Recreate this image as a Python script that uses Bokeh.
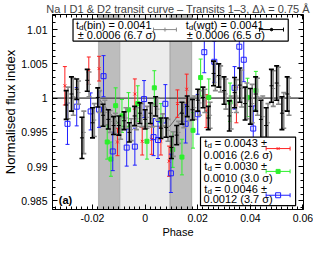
import numpy as np
from bokeh.plotting import figure
from bokeh.models import (Range1d, SingleIntervalTicker, LinearAxis, CustomJSTickFormatter,
                          BoxAnnotation, Span, ColumnDataSource)
from bokeh.core.properties import value
from bokeh.embed import file_html
from bokeh.resources import INLINE

FONT = "Liberation Sans"
TITLE = "Na I D1 & D2 transit curve \u2013 Transits 1\u20133, \u0394\u03bb = 0.75 \u00c5"
X_LABEL = "Phase"
Y_LABEL = "Normalised flux index"
PANEL_TAG = "(a)"

# transit contact phases and model depth
contacts = [-0.0177, -0.0094, 0.0094, 0.0177]
model_phase = [-0.0352, -0.0177, -0.0094, 0.0094, 0.0177, 0.0602]
model_flux = [1.0, 1.0, 0.9959, 0.9959, 1.0, 1.0]

# weighted mean (black)
wgt_phase = [-0.030, -0.028, -0.026, -0.024, -0.022, -0.020, -0.018, -0.016, -0.014, -0.012,
             -0.010, -0.008, -0.006, -0.004, -0.002, 0.000, 0.002, 0.004, 0.006, 0.008,
             0.010, 0.012, 0.014, 0.016, 0.018, 0.020, 0.022, 0.024, 0.026, 0.028,
             0.030, 0.032, 0.034, 0.036, 0.038, 0.040, 0.042, 0.044, 0.046, 0.048,
             0.050, 0.052, 0.054]
wgt_flux = [0.9990, 1.0006, 1.0013, 0.9942, 1.0026, 0.9964, 1.0001, 0.9975, 0.9969, 0.9960,
            0.9960, 0.9967, 0.9950, 0.9974, 0.9978, 0.9969, 0.9978, 0.9988, 0.9956, 0.9957,
            0.9928, 0.9946, 0.9978, 0.9988, 0.9983, 0.9997, 1.0001, 0.9971, 1.0036, 1.0033,
            1.0011, 0.9974, 1.0008, 1.0019, 0.9992, 0.9988, 1.0006, 0.9969, 0.9960, 1.0018,
            1.0022, 0.9978, 1.0006]
wgt_err = [0.0021, 0.0025, 0.0015, 0.0030, 0.0016, 0.0022, 0.0014, 0.0016, 0.0014, 0.0013,
           0.0014, 0.0013, 0.0014, 0.0014, 0.0015, 0.0014, 0.0015, 0.0014, 0.0015, 0.0014,
           0.0016, 0.0014, 0.0016, 0.0015, 0.0015, 0.0016, 0.0015, 0.0017, 0.0018, 0.0017,
           0.0020, 0.0022, 0.0022, 0.0025, 0.0024, 0.0026, 0.0025, 0.0028, 0.0026, 0.0024,
           0.0025, 0.0024, 0.0025]

# binned (grey)
bin_phase = [-0.0293, -0.0273, -0.0253, -0.0233, -0.0213, -0.0193, -0.0173, -0.0153, -0.0133, -0.0113,
             -0.0093, -0.0073, -0.0053, -0.0033, -0.0013, 0.0007, 0.0027, 0.0047, 0.0067, 0.0087,
             0.0107, 0.0127, 0.0147, 0.0167, 0.0187, 0.0207, 0.0227, 0.0247, 0.0267, 0.0287,
             0.0307, 0.0327, 0.0347, 0.0367, 0.0387, 0.0407, 0.0427, 0.0447, 0.0467, 0.0487,
             0.0507, 0.0527, 0.0547]
bin_flux = [0.9993, 1.0002, 1.0008, 0.9950, 1.0020, 0.9968, 0.9995, 0.9979, 0.9966, 0.9963,
            0.9956, 0.9971, 0.9954, 0.9970, 0.9975, 0.9972, 0.9975, 0.9984, 0.9960, 0.9953,
            0.9933, 0.9950, 0.9975, 0.9984, 0.9986, 0.9993, 0.9996, 0.9975, 1.0031, 1.0028,
            1.0006, 0.9979, 1.0003, 1.0014, 0.9996, 0.9992, 1.0002, 0.9973, 0.9964, 1.0014,
            1.0018, 0.9982, 1.0002]
bin_err = [0.0023, 0.0027, 0.0017, 0.0031, 0.0018, 0.0024, 0.0016, 0.0018, 0.0016, 0.0015,
           0.0016, 0.0015, 0.0016, 0.0016, 0.0017, 0.0016, 0.0017, 0.0016, 0.0017, 0.0016,
           0.0018, 0.0016, 0.0018, 0.0017, 0.0017, 0.0018, 0.0017, 0.0019, 0.0020, 0.0019,
           0.0022, 0.0024, 0.0024, 0.0027, 0.0026, 0.0028, 0.0027, 0.0030, 0.0028, 0.0026,
           0.0027, 0.0026, 0.0027]

# transit 1 (red)
t1_phase = [-0.0305, -0.0214, -0.0175, -0.0105, -0.0039, -0.0011, 0.0025, 0.0060, 0.0091,
            0.0123, 0.0158, 0.0232, 0.0347]
t1_flux = [1.0018, 1.0040, 1.0043, 0.9936, 1.0006, 0.9937, 0.9940, 0.9937, 0.9908,
           0.9992, 1.0013, 0.9981, 0.9990]
t1_err = [0.0028, 0.0020, 0.0018, 0.0020, 0.0022, 0.0020, 0.0022, 0.0020, 0.0022,
          0.0020, 0.0022, 0.0024, 0.0026]

# transit 2 (green)
t2_phase = [-0.0144, -0.0130, -0.0112, -0.0088, -0.0063, -0.0028, 0.0007, 0.0035, 0.0060,
            0.0105, 0.0140, 0.0182, 0.0211, 0.0242, 0.0323, 0.0389, 0.0421]
t2_flux = [0.9936, 0.9911, 0.9989, 0.9974, 0.9983, 0.9992, 0.9937, 1.0015, 0.9967,
           0.9925, 0.9914, 0.9953, 1.0030, 1.0001, 0.9994, 1.0001, 1.0011]
t2_err = [0.0025, 0.0025, 0.0026, 0.0024, 0.0025, 0.0026, 0.0026, 0.0025, 0.0025,
          0.0026, 0.0026, 0.0026, 0.0027, 0.0027, 0.0028, 0.0028, 0.0028]

# transit 3 (blue)
t3_phase = [-0.0295, -0.0260, -0.0207, -0.0175, -0.0158, -0.0123, -0.0070, -0.0039, -0.0004,
            0.0032, 0.0049, 0.0077, 0.0098, 0.0154, 0.0200, 0.0225, 0.0263, 0.0340, 0.0358,
            0.0375, 0.0411]
t3_flux = [0.99625, 0.99875, 0.99806, 0.99833, 1.0032, 0.99222, 0.99278, 0.99292, 0.99986,
           0.99431, 0.99389, 0.99917, 0.98903, 0.99625, 0.99764, 1.0067, 1.0053, 1.0015, 1.0075,
           1.0056, 0.99556]
t3_err = [0.0030, 0.0028, 0.0027, 0.0026, 0.0030, 0.0028, 0.0027, 0.0027, 0.0027,
          0.0027, 0.0027, 0.0028, 0.0028, 0.0028, 0.0029, 0.0030, 0.0030, 0.0031, 0.0032,
          0.0032, 0.0033]

# legend texts
bin_label = ["(bin) = 0.0041", "\u00b1 0.0006 (6.7 \u03c3)"]
wgt_label = ["(wgt) = 0.0041", "\u00b1 0.0006 (6.5 \u03c3)"]
transit_label = [["= 0.0043 \u00b1", "0.0016 (2.6 \u03c3)"],
                 ["= 0.0030 \u00b1", "0.0010 (3.0 \u03c3)"],
                 ["= 0.0046 \u00b1", "0.0012 (3.7 \u03c3)"]]

RED, GREEN, BLUE, GREY = "#ff2020", "#2cf02c", "#1f1fff", "#8a8a8a"

X0, X1 = -0.0352, 0.0602
Y0, Y1 = 0.98375, 1.0122

p = figure(width=313, height=240, x_range=Range1d(X0, X1), y_range=Range1d(Y0, Y1),
           output_backend="svg", toolbar_location=None, title=TITLE,
           min_border_left=40, min_border_right=10, min_border_top=10, min_border_bottom=26)
p.title.text_font = FONT
p.title.text_font_size = "11px"
p.title.text_font_style = "normal"
p.title.align = "center"
p.title.standoff = 0
p.grid.visible = False
p.outline_line_color = "black"
p.outline_line_width = 1
p.background_fill_color = "white"
p.border_fill_color = "white"

xt = SingleIntervalTicker(interval=0.02, num_minor_ticks=10)
yt = SingleIntervalTicker(interval=0.005, num_minor_ticks=5)


def style_axis(ax, ticker, loc=None, labels=True):
    ax.ticker = ticker
    if loc is not None:
        ax.fixed_location = loc
    ax.major_tick_in = 5
    ax.major_tick_out = 0
    ax.minor_tick_in = 3
    ax.minor_tick_out = 0
    ax.axis_line_color = "black"
    ax.major_tick_line_color = "black"
    ax.minor_tick_line_color = "black"
    if labels:
        ax.major_label_text_font = FONT
        ax.major_label_text_font_size = "10.5px"
        ax.major_label_text_color = "black"
        ax.major_label_text_line_height = 0.8
        ax.axis_label_text_font = FONT
        ax.axis_label_text_font_style = "normal"
        ax.axis_label_text_color = "black"
        ax.axis_label_text_line_height = 0.8
    else:
        ax.formatter = CustomJSTickFormatter(code="return '';")
        ax.major_label_text_font_size = "1px"
        ax.major_label_standoff = 0


style_axis(p.xaxis[0], xt)
style_axis(p.yaxis[0], yt)
p.xaxis.formatter = CustomJSTickFormatter(code="return (Math.round(tick*100)/100).toString();")
p.yaxis.formatter = CustomJSTickFormatter(code="return (Math.round(tick*1000)/1000).toString();")
p.xaxis.major_label_standoff = 4
p.xaxis.axis_label = X_LABEL
p.xaxis.axis_label_text_font_size = "11px"
p.xaxis.axis_label_standoff = 1
p.yaxis.major_label_standoff = 5
p.yaxis.axis_label = Y_LABEL
p.yaxis.axis_label_text_font_size = "13px"
p.yaxis.axis_label_standoff = 0

top_ax = LinearAxis()
style_axis(top_ax, xt, Y1, labels=False)
p.add_layout(top_ax, "above")
right_ax = LinearAxis()
style_axis(right_ax, yt, X1, labels=False)
p.add_layout(right_ax, "right")

# transit bands
p.add_layout(BoxAnnotation(left=contacts[0], right=contacts[1], fill_color="#bdbdbd", fill_alpha=1,
                           line_color="#5a5a5a", line_width=1.2, level="underlay"))
p.add_layout(BoxAnnotation(left=contacts[1], right=contacts[2], fill_color="#ececec", fill_alpha=1,
                           line_alpha=0, level="underlay"))
p.add_layout(BoxAnnotation(left=contacts[2], right=contacts[3], fill_color="#bdbdbd", fill_alpha=1,
                           line_color="#5a5a5a", line_width=1.2, level="underlay"))
p.add_layout(Span(location=1.0, dimension="width", line_color="#222222", line_width=1, level="underlay"))

p.line(model_phase, model_flux, line_color="#666666", line_width=1)


def errbars(x, y, e, color, lw, cap, marker, msize, mfill):
    x = np.asarray(x, float)
    y = np.asarray(y, float)
    e = np.asarray(e, float)
    src = ColumnDataSource(dict(x=x, y=y, lo=y - e, hi=y + e))
    p.segment(x0="x", y0="lo", x1="x", y1="hi", source=src, line_color=color, line_width=lw)
    p.scatter("x", "lo", marker="dash", size=cap, line_color=color, line_width=lw, source=src)
    p.scatter("x", "hi", marker="dash", size=cap, line_color=color, line_width=lw, source=src)
    p.scatter("x", "y", marker=marker, size=msize, line_color=color, fill_color=mfill,
              line_width=1, source=src)


errbars(t1_phase, t1_flux, t1_err, RED, 1, 4, "x", 4, RED)
errbars(t2_phase, t2_flux, t2_err, GREEN, 1, 4, "square", 4, GREEN)
errbars(t3_phase, t3_flux, t3_err, BLUE, 1, 4, "square", 5, None)
errbars(bin_phase, bin_flux, bin_err, GREY, 1.6, 5, "dash", 4, GREY)
errbars(wgt_phase, wgt_flux, wgt_err, "black", 1.6, 5, "dash", 4, "black")


def hsample(x0, x1, y, color, marker, msize, mfill):
    p.segment(x0=[x0], y0=[y], x1=[x1], y1=[y], line_color=color, line_width=1)
    p.scatter([x0, x1], [y, y], marker="dash", angle=np.pi / 2, size=4, line_color=color)
    p.scatter([(x0 + x1) / 2], [y], marker=marker, size=msize, line_color=color, fill_color=mfill)


def td_text(x, y, rest, gap):
    kw = dict(text_font=value(FONT), text_color="black", text_baseline="middle", text_align="left")
    p.text([x], [y], ["t"], text_font_size="11px", **kw)
    p.text([x], [y], ["d"], text_font_size="8px", x_offset=3.1, y_offset=3, **kw)
    p.text([x], [y], [rest], text_font_size="11px", x_offset=gap, **kw)


def plain_text(x, y, s, size="11px", style="normal"):
    p.text([x], [y], [s], text_font=value(FONT), text_font_size=size, text_font_style=style,
           text_color="black", text_baseline="middle", text_align="left")


# legend 1 (top)
p.quad(left=[-0.0274], right=[0.0544], top=[1.01153], bottom=[1.00833],
       fill_color="white", line_color="black", line_width=1.2)
td_text(-0.0263, 1.0107, bin_label[0], 7.4)
plain_text(-0.0256, 1.0092, bin_label[1])
hsample(0.0032, 0.0119, 1.0100, GREY, "cross", 4, GREY)
td_text(0.0154, 1.0107, wgt_label[0], 7.4)
plain_text(0.0158, 1.0092, wgt_label[1])
hsample(0.0435, 0.0526, 1.0100, "black", "circle", 2.5, "black")

# legend 2 (bottom right)
p.quad(left=[0.02105], right=[0.0572], top=[0.99431], bottom=[0.98431],
       fill_color="white", line_color="black", line_width=1.2)
rows_y = [(0.99347, 0.99167, 0.99264), (0.99014, 0.98833, 0.98931), (0.98681, 0.98528, 0.98583)]
samples = [(RED, "x", 4, RED), (GREEN, "square", 4, GREEN), (BLUE, "square", 5, None)]
for (ya, yb, ys), lab, smp in zip(rows_y, transit_label, samples):
    td_text(0.0225, ya, lab[0], 10.4)
    plain_text(0.0222, yb, lab[1])
    hsample(0.0460, 0.0551, ys, *smp)

plain_text(-0.0328, 0.9851, PANEL_TAG, size="11px", style="bold")

open("out.html", "w").write(file_html(p, INLINE))
